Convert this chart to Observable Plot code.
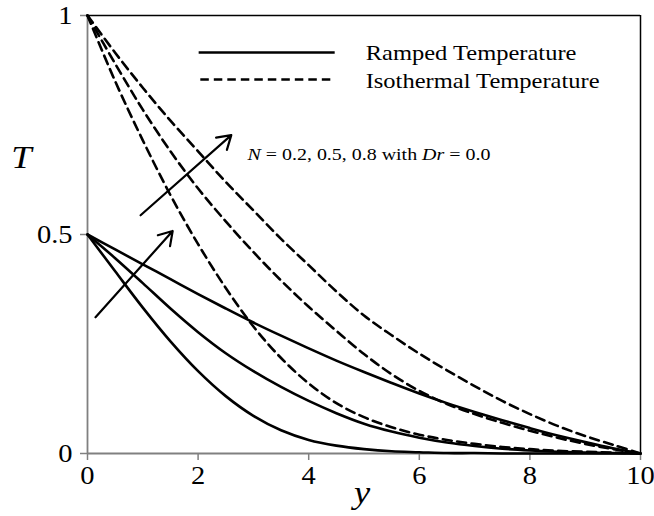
<!DOCTYPE html>
<html><head><meta charset="utf-8">
<script src="https://cdn.jsdelivr.net/npm/d3@7"></script>
<script src="https://cdn.jsdelivr.net/npm/@observablehq/plot@0.6"></script>
<style>
  html,body{margin:0;padding:0;background:#fff}
  #chart{width:654px;height:516px}
</style>
</head><body><div id="chart"></div>
<script>
// ---- data ----
const yPos = [0, 0.5, 1, 1.5, 2, 2.5, 3, 3.5, 4, 4.5, 5, 5.5, 6, 6.5, 7, 7.5, 8, 8.5, 9, 9.5, 10];
const rampedN02 = [0.5, 0.416, 0.333, 0.256, 0.188, 0.131, 0.086, 0.053, 0.031, 0.018, 0.010, 0.005, 0.003, 0.001, 0.001, 0, 0, 0, 0, 0, 0];
const rampedN05 = [0.5, 0.446, 0.389, 0.331, 0.277, 0.229, 0.188, 0.152, 0.120, 0.092, 0.068, 0.050, 0.036, 0.025, 0.017, 0.011, 0.007, 0.004, 0.002, 0.001, 0];
const rampedN08 = [0.5, 0.466, 0.432, 0.398, 0.364, 0.331, 0.299, 0.269, 0.240, 0.212, 0.186, 0.161, 0.137, 0.115, 0.095, 0.076, 0.058, 0.041, 0.026, 0.012, 0];
const isoN02 = [1, 0.850, 0.715, 0.590, 0.478, 0.378, 0.290, 0.218, 0.160, 0.115, 0.083, 0.060, 0.043, 0.031, 0.022, 0.015, 0.010, 0.006, 0.004, 0.002, 0];
const isoN05 = [1, 0.890, 0.785, 0.690, 0.605, 0.530, 0.460, 0.395, 0.335, 0.280, 0.227, 0.181, 0.143, 0.113, 0.090, 0.070, 0.052, 0.036, 0.022, 0.010, 0];
const isoN08 = [1, 0.915, 0.835, 0.760, 0.690, 0.620, 0.555, 0.490, 0.430, 0.370, 0.315, 0.270, 0.228, 0.190, 0.154, 0.120, 0.090, 0.063, 0.040, 0.020, 0];

const xTicks = [0, 2, 4, 6, 8, 10];
const yTicks = [0, 0.5, 1];
const xTickLabels = ["0", "2", "4", "6", "8", "10"];
const yTickLabels = ["0", "0.5", "1"];

const seriesNames = ["Ramped Temperature", "Isothermal Temperature"];
const annotationText = "N = 0.2, 0.5, 0.8 with Dr = 0.0";

// arrows (annotation, data coordinates) : [x1, T1, x2, T2]
const arrowUpper = [0.96, 0.544, 2.60, 0.727];
const arrowLower = [0.145, 0.311, 1.54, 0.508];

// ---- build tables ----
function toRows(vals, family, N) {
  return yPos.map((x, i) => ({x, T: vals[i], family, key: family + N}));
}
const ramped = [].concat(toRows(rampedN02, "ramped", 0.2), toRows(rampedN05, "ramped", 0.5), toRows(rampedN08, "ramped", 0.8));
const iso = [].concat(toRows(isoN02, "iso", 0.2), toRows(isoN05, "iso", 0.5), toRows(isoN08, "iso", 0.8));
const arrows = [arrowUpper, arrowLower].map(a => ({x1: a[0], y1: a[1], x2: a[2], y2: a[3]}));

const legendLines = [
  {x1: 2.01, x2: 4.47, y: 0.9155, dash: null},
  {x1: 2.04, x2: 4.45, y: 0.854, dash: "8.5,5"}
];
const legendText = [
  {x: 5.03, y: 0.899, label: seriesNames[0]},
  {x: 5.03, y: 0.834, label: seriesNames[1]}
];

const GRAY = "#808080";
const FONT = "'Liberation Serif', 'Times New Roman', serif";
const DASH = "9,5.5";
const LW = 2.6;

const chart = Plot.plot({
  width: 654,
  height: 516,
  marginLeft: 87,
  marginRight: 14,
  marginTop: 15,
  marginBottom: 63,
  style: {fontFamily: FONT, background: "white", color: "black"},
  x: {domain: [0, 10], label: null},
  y: {domain: [0, 1], label: null},
  marks: [
    Plot.axisX({ticks: xTicks, tickFormat: (d) => xTickLabels[xTicks.indexOf(d)], tickSize: 7, tickPadding: 6,
      stroke: GRAY, strokeWidth: 1.5, fill: "black", fontSize: 25, fontFamily: FONT, label: null}),
    Plot.axisY({ticks: yTicks, tickFormat: (d) => yTickLabels[yTicks.indexOf(d)], tickSize: 7, tickPadding: 8,
      stroke: GRAY, strokeWidth: 1.5, fill: "black", fontSize: 25, fontFamily: FONT, label: null}),
    Plot.ruleX([10], {stroke: "black", strokeWidth: 1.5}),
    Plot.ruleY([1], {stroke: "black", strokeWidth: 1.5}),
    Plot.ruleX([0], {stroke: GRAY, strokeWidth: 1.8}),
    Plot.ruleY([0], {stroke: GRAY, strokeWidth: 1.8}),
    Plot.line(iso, {x: "x", y: "T", z: "key", stroke: "black", strokeWidth: LW, strokeDasharray: DASH, curve: "catmull-rom"}),
    Plot.line(ramped, {x: "x", y: "T", z: "key", stroke: "black", strokeWidth: LW, curve: "catmull-rom"}),
    Plot.arrow(arrows, {x1: "x1", y1: "y1", x2: "x2", y2: "y2", stroke: "black", strokeWidth: 2.2, headLength: 10.5, headAngle: 64}),
    Plot.link(legendLines.filter(d => !d.dash), {x1: "x1", x2: "x2", y1: "y", y2: "y", stroke: "black", strokeWidth: LW}),
    Plot.link(legendLines.filter(d => d.dash), {x1: "x1", x2: "x2", y1: "y", y2: "y", stroke: "black", strokeWidth: LW, strokeDasharray: "8.5,5"}),
    Plot.text(legendText, {x: "x", y: "y", text: "label", textAnchor: "start", lineAnchor: "bottom", fontSize: 21.5, fontFamily: FONT, fill: "black"}),
    Plot.text([annotationText], {x: 2.893, y: 0.670, text: (d) => d, textAnchor: "start", lineAnchor: "bottom", fontSize: 17.5, fontFamily: FONT, fill: "black"}),
    Plot.text(["T"], {frameAnchor: "top-left", dx: -66, dy: 142, text: (d) => d, textAnchor: "middle", lineAnchor: "middle", fontSize: 32, fontStyle: "italic", fontFamily: FONT, fill: "black"}),
    Plot.text(["y"], {frameAnchor: "bottom", dx: -2, dy: 39, text: (d) => d, textAnchor: "middle", lineAnchor: "middle", fontSize: 32, fontStyle: "italic", fontFamily: FONT, fill: "black"})
  ]
});

// widen glyphs horizontally like the reference rendering, and italicise symbols
chart.querySelectorAll("text").forEach((t) => {
  const tr = t.getAttribute("transform");
  if (tr) t.setAttribute("transform", tr + " scale(1.14,1)");
  if (t.textContent === annotationText) {
    t.textContent = "";
    const parts = [["N", true], [" = 0.2, 0.5, 0.8 with ", false], ["Dr", true], [" = 0.0", false]];
    for (const [s, it] of parts) {
      const ts = document.createElementNS("http://www.w3.org/2000/svg", "tspan");
      ts.textContent = s;
      if (it) ts.setAttribute("font-style", "italic");
      t.appendChild(ts);
    }
  }
});
document.getElementById("chart").appendChild(chart);
</script></body></html>
